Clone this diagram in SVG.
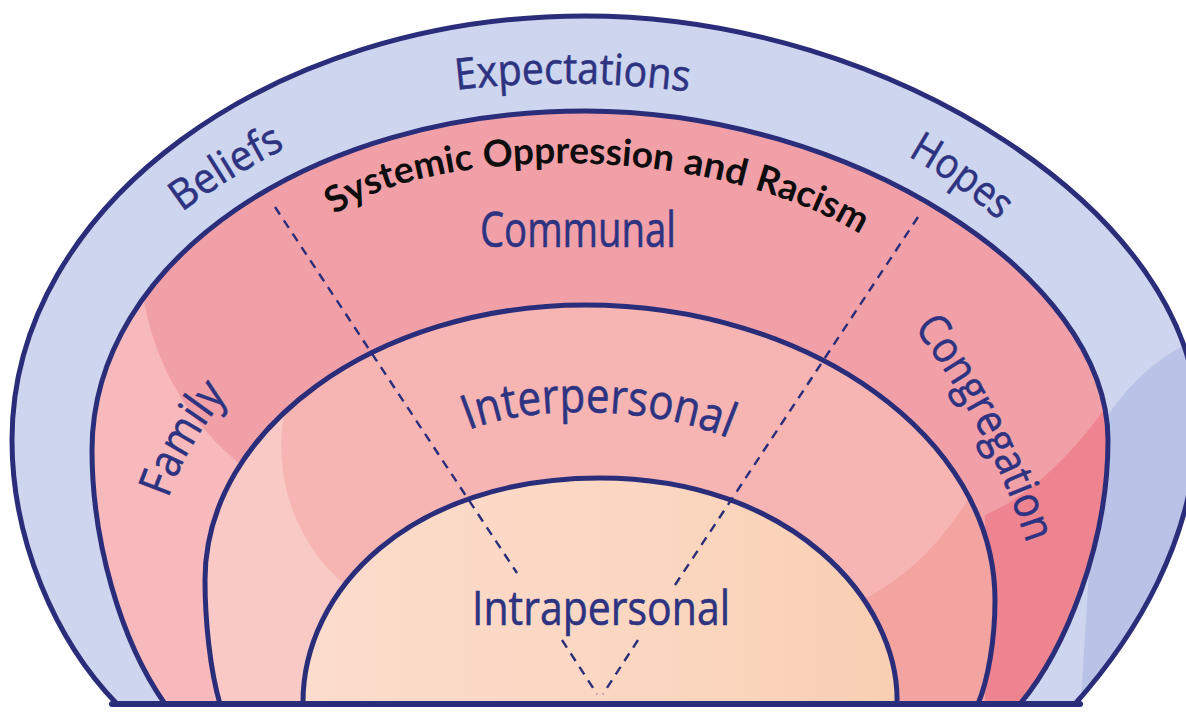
<svg xmlns="http://www.w3.org/2000/svg" width="1186" height="713" viewBox="0 0 1186 713">
  <defs>
    <style>
      .edge{fill:none;stroke:#2a2d79;stroke-width:5;stroke-linejoin:round}
      .dash{fill:none;stroke:#2a2d79;stroke-width:2.4;stroke-dasharray:9 7}
      .lbl{font-family:"Open Sans","Noto Sans","DejaVu Sans",sans-serif;fill:#2d3381;font-weight:400;stroke:#2d3381;stroke-width:0.6}
      .sys{font-family:Lato,"Open Sans",sans-serif;font-weight:700;fill:#0d0d0d;font-size:37px}
    </style>
    <!-- ring outlines, all sitting on the same ground line -->
    <path id="shOuter" d="M117,704 C55,640 12,540 12,440 C12,205 272,16 585,16 C892,16 1197,216 1197,420 C1197,540 1132,640 1075,704 Z"/>
    <path id="shComm" d="M165,704 C120,640 92,540 92,450 C92,262 310,111 585,111 C850,111 1108,275 1108,440 C1108,545 1065,650 1020,704 Z"/>
    <path id="shInter" d="M220,704 C210,670 205,620 205,580 C205,429 376,305 585,305 C810,305 995,438 995,600 C995,640 988,680 978,704 Z"/>
    <path id="shIntra" d="M303,704 C302,590 410,478 600,478 C790,478 900,600 897,704 Z"/>
    <clipPath id="cOuter"><use href="#shOuter"/></clipPath>
    <clipPath id="cComm"><use href="#shComm"/></clipPath>
    <clipPath id="cInter"><use href="#shInter"/></clipPath>
    <linearGradient id="gIntra" x1="0" y1="0" x2="1" y2="0">
      <stop offset="0" stop-color="#fcdccc"/>
      <stop offset="0.55" stop-color="#fbd7c2"/>
      <stop offset="1" stop-color="#f9cfb2"/>
    </linearGradient>
    <!-- label baselines -->
    <path id="pExp" d="M440,92 Q572,74 705,94"/>
    <path id="pBel" d="M178,215 Q228,177 290,146"/>
    <path id="pHop" d="M906,155 Q955,182 1000,222"/>
    <path id="pSys" d="M335,215 C420,150 700,135 865,237"/>
    <path id="pFam" d="M166,505 Q185,445 232,390"/>
    <path id="pCon" d="M908,320 Q990,425 1030,553"/>
    <path id="pInt" d="M462,433 C520,405 650,403 735,441"/>
  </defs>

  <!-- outer band -->
  <g id="ring-outer">
    <use href="#shOuter" fill="#ced5ee"/>
    <g clip-path="url(#cOuter)">
      <path d="M1098,430 Q1140,362 1200,338 L1200,713 L1080,713 Z" fill="#b9c3e7"/>
    </g>
    <use href="#shOuter" class="edge"/>
    <text class="lbl" font-size="43"><textPath href="#pExp" startOffset="50%" text-anchor="middle" textLength="233" lengthAdjust="spacingAndGlyphs">Expectations</textPath></text>
    <text class="lbl" font-size="42"><textPath href="#pBel" startOffset="50%" text-anchor="middle" textLength="122" lengthAdjust="spacingAndGlyphs">Beliefs</textPath></text>
    <text class="lbl" font-size="42"><textPath href="#pHop" startOffset="50%" text-anchor="middle" textLength="112" lengthAdjust="spacingAndGlyphs">Hopes</textPath></text>
  </g>

  <!-- communal band -->
  <g id="ring-communal">
    <use href="#shComm" fill="#f2a0a8"/>
    <g clip-path="url(#cComm)">
      <path d="M60,286 L142,286 A267 267 0 0 0 262,480 L262,713 L60,713 Z" fill="#f7b9bb"/>
      <path d="M1125,378 Q1060,482 985,515 L985,713 L1125,713 Z" fill="#ef8491"/>
    </g>
    <use href="#shComm" class="edge"/>
    <g class="sys">
      <text><textPath href="#pSys" startOffset="0" textLength="148" lengthAdjust="spacingAndGlyphs">Systemic</textPath></text>
      <text><textPath href="#pSys" startOffset="158" textLength="189" lengthAdjust="spacingAndGlyphs">Oppression</textPath></text>
      <text><textPath href="#pSys" startOffset="357" textLength="63" lengthAdjust="spacingAndGlyphs">and</textPath></text>
      <text><textPath href="#pSys" startOffset="430" textLength="116" lengthAdjust="spacingAndGlyphs">Racism</textPath></text>
    </g>
    <text class="lbl" font-size="50" x="578" y="247" text-anchor="middle" textLength="196" lengthAdjust="spacingAndGlyphs">Communal</text>
    <text class="lbl" font-size="46"><textPath href="#pFam" startOffset="50%" text-anchor="middle" textLength="120" lengthAdjust="spacingAndGlyphs">Family</textPath></text>
    <text class="lbl" font-size="44"><textPath href="#pCon" startOffset="50%" text-anchor="middle" textLength="245" lengthAdjust="spacingAndGlyphs">Congregation</textPath></text>
  </g>

  <!-- interpersonal band -->
  <g id="ring-interpersonal">
    <use href="#shInter" fill="#f6b5b3"/>
    <g clip-path="url(#cInter)">
      <path d="M195,410 L285,410 A182 182 0 0 0 345,585 L345,713 L195,713 Z" fill="#f9c9c5"/>
      <path d="M985,470 Q935,565 862,600 L862,713 L1000,713 Z" fill="#f3a4a1"/>
    </g>
    <use href="#shInter" class="edge"/>
    <text class="lbl" font-size="48"><textPath href="#pInt" startOffset="50%" text-anchor="middle" textLength="265" lengthAdjust="spacingAndGlyphs">Interpersonal</textPath></text>
  </g>

  <!-- intrapersonal core -->
  <g id="ring-intrapersonal">
    <use href="#shIntra" fill="url(#gIntra)"/>
    <use href="#shIntra" class="edge"/>
    <text class="lbl" font-size="48" x="601" y="625" text-anchor="middle" textLength="258" lengthAdjust="spacingAndGlyphs">Intrapersonal</text>
  </g>

  <!-- sector dividers and ground line -->
  <g id="connectors">
    <line class="dash" x1="275" y1="207" x2="517" y2="573"/>
    <line class="dash" x1="562" y1="640" x2="597" y2="694"/>
    <line class="dash" x1="918" y1="217" x2="675" y2="585"/>
    <line class="dash" x1="638" y1="640" x2="603" y2="694"/>
    <line x1="112" y1="704" x2="1080" y2="704" stroke="#2a2d79" stroke-width="6" stroke-linecap="round"/>
  </g>
</svg>
